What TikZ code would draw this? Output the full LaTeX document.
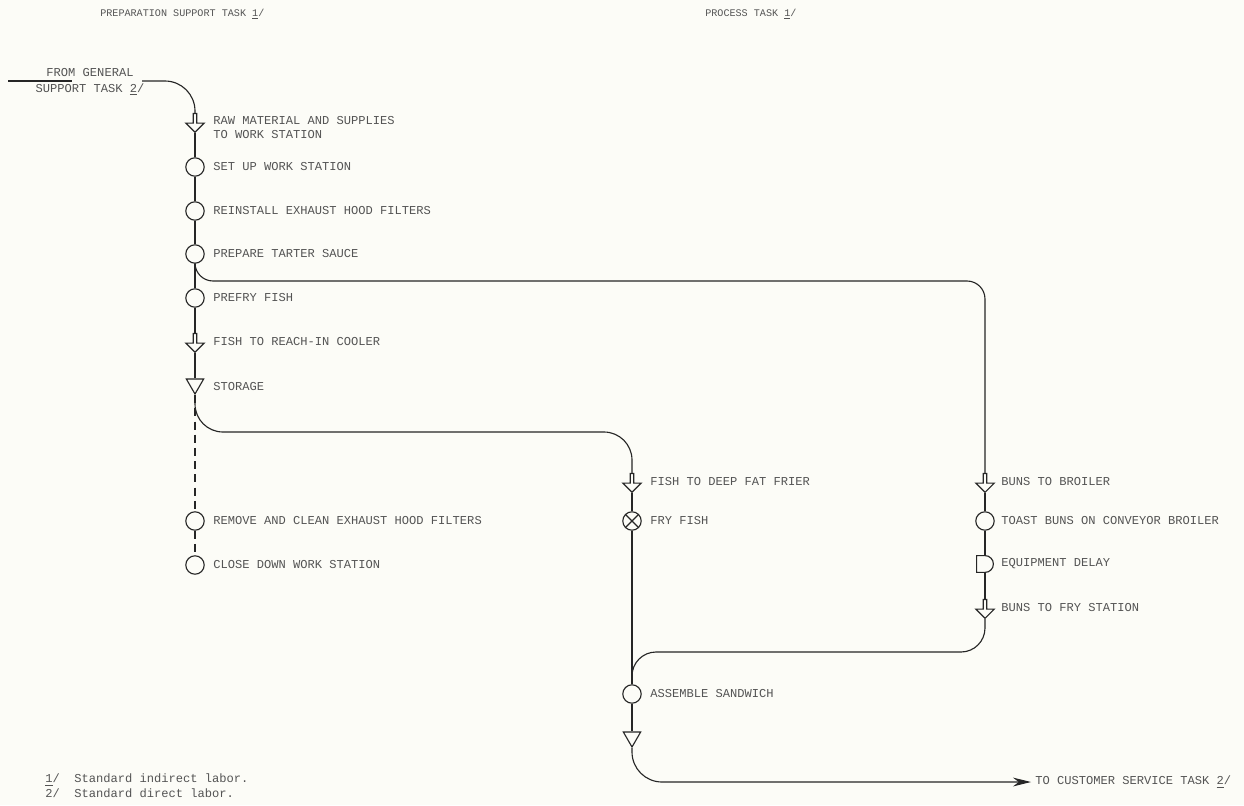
\documentclass[tikz,border=0pt]{standalone}
\usepackage{fontspec}
\usepackage{xcolor}
\usepackage{tikz}
\usetikzlibrary{shapes.geometric, shapes.arrows, shapes.misc, arrows.meta, positioning}
\newfontfamily\typefont{Liberation Mono}
\definecolor{paper}{rgb}{0.99, 0.99, 0.97}
\definecolor{ink}{rgb}{0.33, 0.33, 0.33}
\definecolor{pen}{rgb}{0.15, 0.15, 0.15}
\tikzstyle{opbox} = [circle, draw=pen, fill=paper, line width=0.8pt, minimum size=0.46cm, inner sep=0pt]
\tikzstyle{crossbox} = [opbox, path picture={\draw[pen, line width=0.8pt] (path picture bounding box.north west) -- (path picture bounding box.south east) (path picture bounding box.south west) -- (path picture bounding box.north east);}]
\tikzstyle{movebox} = [single arrow, draw=pen, fill=paper, line width=0.8pt, shape border rotate=270, single arrow tip angle=90, single arrow head extend=0.06cm, minimum height=0.47cm, minimum width=0.46cm, inner sep=0pt]
\tikzstyle{storebox} = [regular polygon, regular polygon sides=3, shape border rotate=180, draw=pen, fill=paper, line width=0.8pt, minimum size=0.5cm, inner sep=0pt]
\tikzstyle{delaybox} = [rounded rectangle, rounded rectangle west arc=none, draw=pen, fill=paper, line width=0.8pt, minimum width=0.35cm, minimum height=0.42cm, inner sep=0pt]
\tikzstyle{tasktext} = [font=\typefont\fontsize{8.6}{10}\selectfont, text=ink, inner sep=0pt, align=left]
\tikzstyle{headtext} = [font=\typefont\fontsize{7.2}{9}\selectfont, text=ink, inner sep=0pt, anchor=west]
\tikzstyle{flow} = [line width=0.8pt, draw=pen]

\begin{document}
\begin{tikzpicture}[x=0.025cm, y=-0.025cm]
\fill[paper] (0,0) rectangle (1244,805);
\useasboundingbox (0,0) rectangle (1244,805);

\node[headtext] (prephead) at (100,14) {PREPARATION SUPPORT TASK \underline{1}/};
\node[headtext] (prochead) at (705,14) {PROCESS TASK \underline{1}/};

\node[tasktext, align=center] (fromtxt) at (90,82) {FROM GENERAL\\[1.4pt]SUPPORT TASK \underline{2}/};
\coordinate (fromA) at (8,81);
\coordinate (fromB) at (72,81);
\coordinate (fromC) at (142,81);

\node[movebox] (mv1) at (195,122) {};
\node[opbox] (op1) at (195,167) {};
\node[opbox] (op2) at (195,211) {};
\node[opbox] (op3) at (195,254) {};
\node[opbox] (op4) at (195,298) {};
\node[movebox] (mv2) at (195,342) {};
\node[storebox] (st1) at (195,384) {};
\node[opbox] (op5) at (195,521) {};
\node[opbox] (op6) at (195,565) {};

\node[movebox] (mv3) at (632,482) {};
\node[crossbox] (cr1) at (632,521) {};
\node[opbox] (op7) at (632,694) {};
\node[storebox] (st2) at (632,737) {};

\node[movebox] (mv4) at (985,482) {};
\node[opbox] (op8) at (985,521) {};
\node[delaybox] (dl1) at (985,564) {};
\node[movebox] (mv5) at (985,608) {};

\coordinate (bendA) at (985,281);
\coordinate (bendB) at (632,432);
\coordinate (bendC) at (632,652);

\node[tasktext, right=0.45cm of mv1.center, yshift=-0.13cm] (mv1txt) {RAW MATERIAL AND SUPPLIES\\TO WORK STATION};
\node[tasktext, right=0.45cm of op1.center] (op1txt) {SET UP WORK STATION};
\node[tasktext, right=0.45cm of op2.center] (op2txt) {REINSTALL EXHAUST HOOD FILTERS};
\node[tasktext, right=0.45cm of op3.center] (op3txt) {PREPARE TARTER SAUCE};
\node[tasktext, right=0.45cm of op4.center] (op4txt) {PREFRY FISH};
\node[tasktext, right=0.45cm of mv2.center] (mv2txt) {FISH TO REACH-IN COOLER};
\node[tasktext, right=0.45cm of st1.center, yshift=-0.07cm] (st1txt) {STORAGE};
\node[tasktext, right=0.45cm of op5.center] (op5txt) {REMOVE AND CLEAN EXHAUST HOOD FILTERS};
\node[tasktext, right=0.45cm of op6.center] (op6txt) {CLOSE DOWN WORK STATION};

\node[tasktext, right=0.45cm of mv3.center] (mv3txt) {FISH TO DEEP FAT FRIER};
\node[tasktext, right=0.45cm of cr1.center] (cr1txt) {FRY FISH};
\node[tasktext, right=0.45cm of op7.center] (op7txt) {ASSEMBLE SANDWICH};

\node[tasktext, right=0.4cm of mv4.center] (mv4txt) {BUNS TO BROILER};
\node[tasktext, right=0.4cm of op8.center] (op8txt) {TOAST BUNS ON CONVEYOR BROILER};
\node[tasktext, right=0.4cm of dl1.center] (dl1txt) {EQUIPMENT DELAY};
\node[tasktext, right=0.4cm of mv5.center] (mv5txt) {BUNS TO FRY STATION};

\node[tasktext, anchor=west] (custtxt) at (1035,782) {TO CUSTOMER SERVICE TASK \underline{2}/};

\node[tasktext, anchor=west] (note1) at (45,780) {\underline{1}/\ \ Standard indirect labor.};
\node[tasktext, anchor=west] (note2) at (45,793) {2/\ \ Standard direct labor.};

\draw[flow] (fromA) -- (fromB);
\draw[flow, rounded corners=0.75cm] (fromC) -| (mv1);
\draw[flow] (mv1) -- (op1) -- (op2) -- (op3) -- (op4) -- (mv2) -- (st1);
\draw[flow, dash pattern=on 0.2cm off 0.13cm] (st1) -- (op5) -- (op6);
\draw[flow, rounded corners=0.45cm] (op3) |- (bendA) -- (mv4);
\draw[flow, rounded corners=0.7cm] (st1) |- (bendB) -- (mv3);
\draw[flow] (mv3) -- (cr1) -- (op7) -- (st2);
\draw[flow] (mv4) -- (op8) -- (dl1) -- (mv5);
\draw[flow, rounded corners=0.6cm] (mv5) |- (bendC) -- (op7);
\draw[flow, rounded corners=0.75cm, -{Stealth[length=0.45cm, width=0.22cm]}, shorten >=0.1cm] (st2) |- (custtxt);
\end{tikzpicture}
\end{document}
